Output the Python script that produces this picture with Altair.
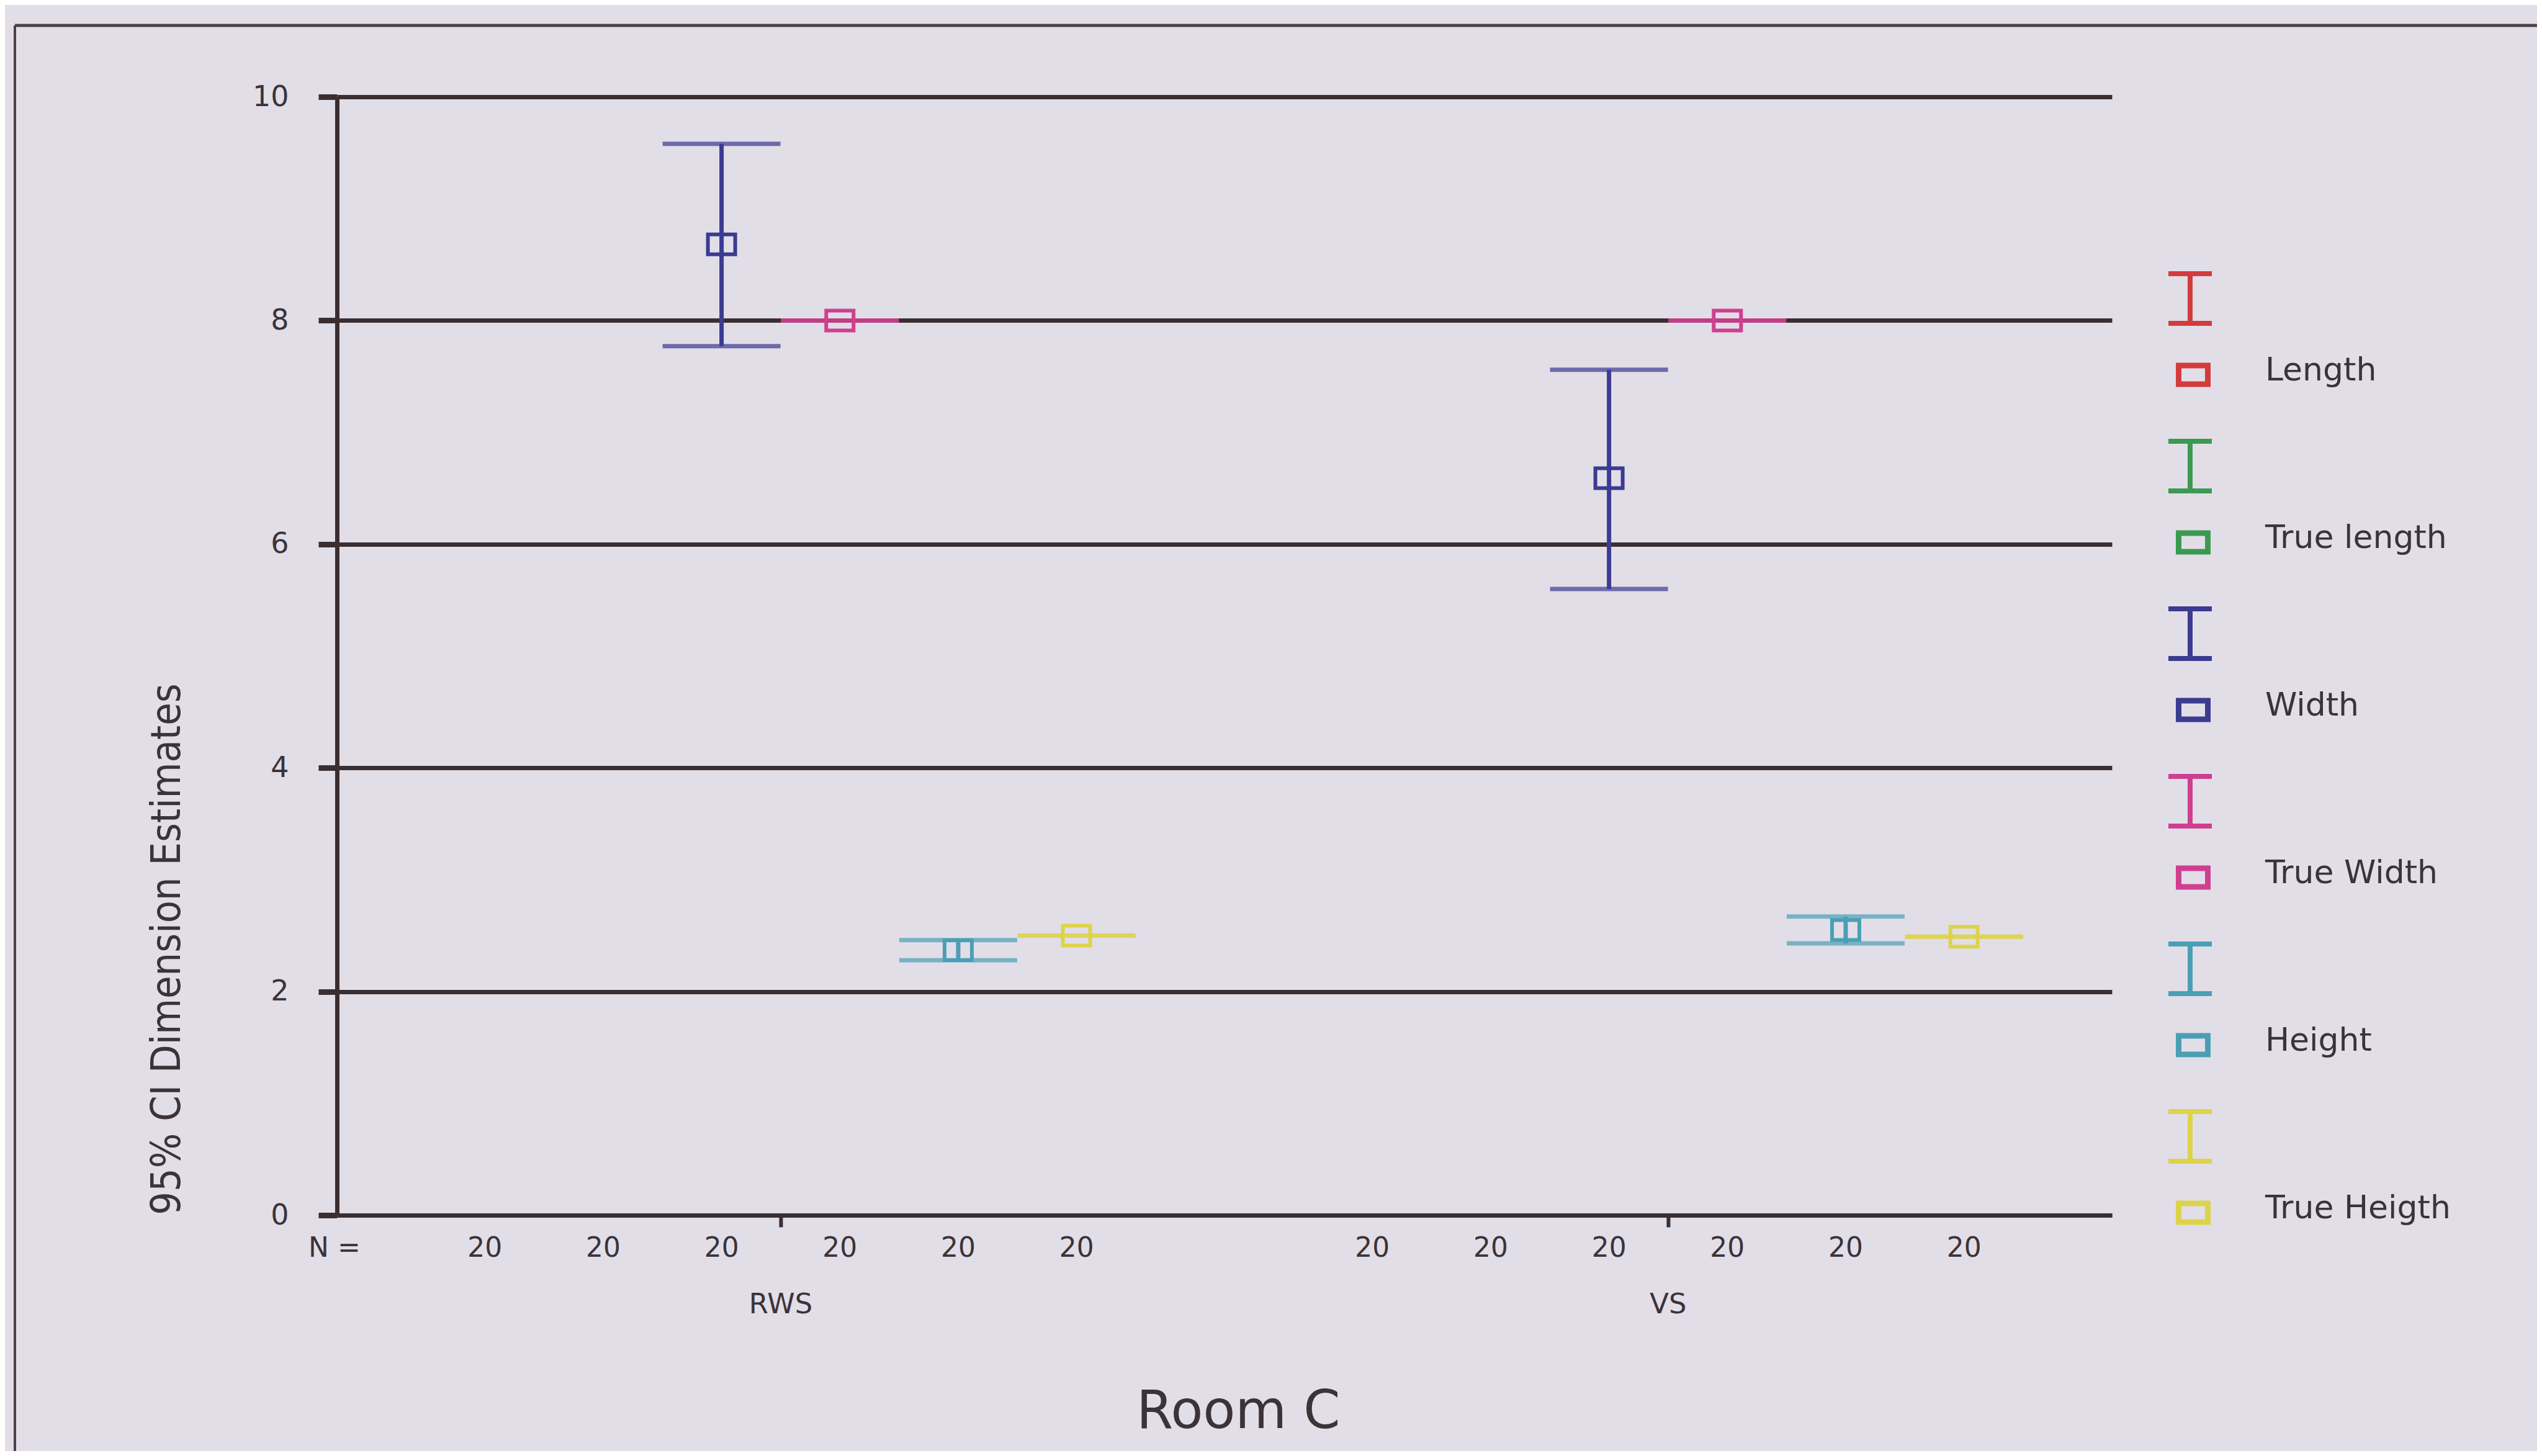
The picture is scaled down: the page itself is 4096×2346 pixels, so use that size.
import altair as alt
import pandas as pd

# ---------------- data ----------------
groups = ["RWS", "VS"]
series = ["Length", "True length", "Width", "True Width", "Height", "True Heigth"]
colors = ["#d23c3c", "#3c9a50", "#3b3b91", "#cf3f8f", "#4b9fb5", "#ddd34a"]

# Length / True length lie outside the plotted 0-10 range (not visible)
rws_mean = [None, None, 8.68, 8.00, 2.37, 2.50]
rws_low = [None, None, 7.77, 8.00, 2.28, 2.50]
rws_high = [None, None, 9.58, 8.00, 2.46, 2.50]
vs_mean = [None, None, 6.59, 8.00, 2.55, 2.49]
vs_low = [None, None, 5.60, 8.00, 2.43, 2.49]
vs_high = [None, None, 7.56, 8.00, 2.67, 2.49]
rws_n = [20, 20, 20, 20, 20, 20]
vs_n = [20, 20, 20, 20, 20, 20]
y_ticks = [0, 2, 4, 6, 8, 10]
n_prefix = ["N ="]
x_title = "Room C"
y_title = "95% CI Dimension Estimates"

# ---------------- tables ----------------
rows, count_rows = [], []
for g, means, lows, highs, ns in [
    ("RWS", rws_mean, rws_low, rws_high, rws_n),
    ("VS", vs_mean, vs_low, vs_high, vs_n),
]:
    for s, m, lo, hi, n in zip(series, means, lows, highs, ns):
        count_rows.append({"group": g, "series": s, "n": n})
        if m is not None:
            rows.append({"group": g, "series": s, "mean": m, "low": lo, "high": hi})
df = pd.DataFrame(rows)
df_n = pd.DataFrame(count_rows)
df_leg = pd.DataFrame({"series": series, "li": list(range(len(series)))})
df_prefix = pd.DataFrame({"label": n_prefix})
df_one = pd.DataFrame({"k": [0]})

# ---------------- layout (px) ----------------
W, H = 2860, 1802
PAD = {"left": 535, "top": 148, "right": 685, "bottom": 380}
DARK = "#3a2e31"
TEXT = "#3b3337"
FRAME = "#4a4046"
FONT = "DejaVu Sans"
NARROW = "DejaVu Sans Condensed, Liberation Sans Narrow, Liberation Sans, sans-serif"

color_enc = alt.Color("series:N", scale=alt.Scale(domain=series, range=colors), legend=None)
x_enc = alt.X(
    "group:N",
    scale=alt.Scale(domain=groups, paddingInner=0, paddingOuter=0),
    axis=alt.Axis(
        title=x_title, labelAngle=0, labelFontSize=45, labelFont=FONT, labelColor=TEXT,
        labelPadding=102, tickSize=19, tickWidth=6, tickColor=DARK,
        domainColor=DARK, domainWidth=7, grid=False,
        titleFontSize=85, titleFont=FONT, titleFontWeight="normal", titleColor=TEXT,
        titleX=1452, titleY=342, titleAlign="center", titleBaseline="alphabetic",
    ),
)
xo_enc = alt.XOffset("series:N", scale=alt.Scale(domain=series, paddingInner=0, paddingOuter=0.75))

y_scale = alt.Scale(domain=[0, 10], nice=False, zero=False)
y_axis = alt.Axis(
    values=y_ticks, title=y_title, grid=True, gridColor=DARK, gridWidth=7, gridOpacity=1,
    domainColor=DARK, domainWidth=7, tickColor=DARK, tickSize=30, tickWidth=9,
    labelFontSize=46, labelFont=FONT, labelColor=TEXT, labelPadding=48,
    titleFont=NARROW, titleFontSize=66, titleFontWeight="normal", titleColor=TEXT,
    titleAngle=270, titleX=-274, titleY=1373, titleAlign="center", titleBaseline="middle",
)


def Y(field):
    return alt.Y(f"{field}:Q", scale=y_scale, axis=y_axis)


base = alt.Chart(df)
stems = base.mark_rule(strokeWidth=7).encode(x=x_enc, xOffset=xo_enc, y=Y("low"), y2="high:Q", color=color_enc)
cap_lo = base.mark_tick(size=190, thickness=7).encode(x=x_enc, xOffset=xo_enc, y=Y("low"), color=color_enc)
cap_hi = base.mark_tick(size=190, thickness=7).encode(x=x_enc, xOffset=xo_enc, y=Y("high"), color=color_enc)
boxes = base.mark_point(
    shape="M-1.375,-1H1.375V1H-1.375Z", size=1024, strokeWidth=6, filled=False, opacity=1
).encode(x=x_enc, xOffset=xo_enc, y=Y("mean"), color=color_enc)
counts = alt.Chart(df_n).mark_text(fontSize=44, font=FONT, color=TEXT, baseline="middle").encode(
    x=x_enc, xOffset=xo_enc, y=alt.value(H + 54), text="n:Q"
)
prefix = alt.Chart(df_prefix).mark_text(fontSize=44, font=FONT, color=TEXT, baseline="middle").encode(
    x=alt.value(-4), y=alt.value(H + 54), text="label:N"
)
frame_left = alt.Chart(df_one).mark_rule(color=FRAME, strokeWidth=4).encode(
    x=alt.value(-519), y=alt.value(-115), y2=alt.value(H + PAD["bottom"] + 40)
)
frame_top = alt.Chart(df_one).mark_rule(color=FRAME, strokeWidth=5).encode(
    x=alt.value(-519), x2=alt.value(W + PAD["right"] + 40), y=alt.value(-115), y2=alt.value(-115)
)

main = alt.layer(stems, cap_lo, cap_hi, boxes, counts, prefix, frame_left, frame_top)

# ---------------- custom legend ----------------
LX, BX, TX = 2986, 2991, 3107
ly = alt.Y("li:Q", scale=alt.Scale(domain=[0, 5], range=[325, 325 + 5 * 270], nice=False, zero=False), axis=None)
lbase = alt.Chart(df_leg)
leg_stem = lbase.mark_rule(strokeWidth=8, yOffset=-40, y2Offset=40).encode(
    x=alt.value(LX), y=ly, y2="li:Q", color=color_enc
)
leg_top = lbase.mark_rule(strokeWidth=8, yOffset=-40).encode(
    x=alt.value(LX - 35), x2=alt.value(LX + 35), y=ly, color=color_enc
)
leg_bot = lbase.mark_rule(strokeWidth=8, yOffset=40).encode(
    x=alt.value(LX - 35), x2=alt.value(LX + 35), y=ly, color=color_enc
)
leg_box = lbase.mark_point(
    shape="M-1.567,-1H1.567V1H-1.567Z", size=900, strokeWidth=9, filled=False, opacity=1, yOffset=123
).encode(x=alt.value(BX), y=ly, color=color_enc)
leg_text = lbase.mark_text(
    align="left", baseline="middle", fontSize=52, font=FONT, color=TEXT, yOffset=116
).encode(x=alt.value(TX), y=ly, text="series:N")
legend = alt.layer(leg_stem, leg_top, leg_bot, leg_box, leg_text)

chart = (
    alt.layer(main, legend)
    .resolve_scale(y="independent")
    .properties(width=W, height=H, autosize=alt.AutoSizeParams(type="none"), padding=PAD)
    .configure(background="#e2dee8")
    .configure_view(stroke=None)
)

chart.save("out.html", embed_options={"renderer": "svg", "actions": False})
